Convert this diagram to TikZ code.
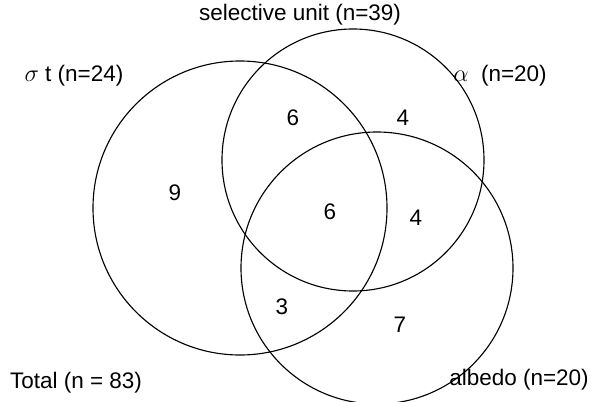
\documentclass[tikz,border=0pt]{standalone}
\usepackage{fontspec}
\setmainfont{Liberation Sans}
\begin{document}
\begin{tikzpicture}[x=0.025cm, y=-0.025cm,
    set/.style={draw, thick, circle},
    count/.style={font=\fontsize{16}{18}\selectfont},
    setlabel/.style={font=\fontsize{16}{18}\selectfont}
]
    \useasboundingbox (0,0) rectangle (600,402);

    % Sets
    \draw[set] (240,208) circle[radius=147];
    \draw[set] (353,160) circle[radius=131];
    \draw[set] (377,268) circle[radius=136];

    % Set labels
    \node[setlabel] (lsel) at (300,15) {selective unit (n=39)};
    \node[setlabel] (lsig) at (74,76) {$\sigma$ t (n=24)};
    \node[setlabel] (lalp) at (500,76) {$\alpha$\ \ (n=20)};
    \node[setlabel] (ltot) at (76,383) {Total (n = 83)};
    \node[setlabel] (lalb) at (519,380) {albedo (n=20)};

    % Counts
    \node[count] (c1) at (175,193) {9};
    \node[count] (c2) at (293,118) {6};
    \node[count] (c3) at (403,118) {4};
    \node[count] (c4) at (330,212) {6};
    \node[count] (c5) at (416,218) {4};
    \node[count] (c6) at (282,307) {3};
    \node[count] (c7) at (400,325) {7};
\end{tikzpicture}
\end{document}
